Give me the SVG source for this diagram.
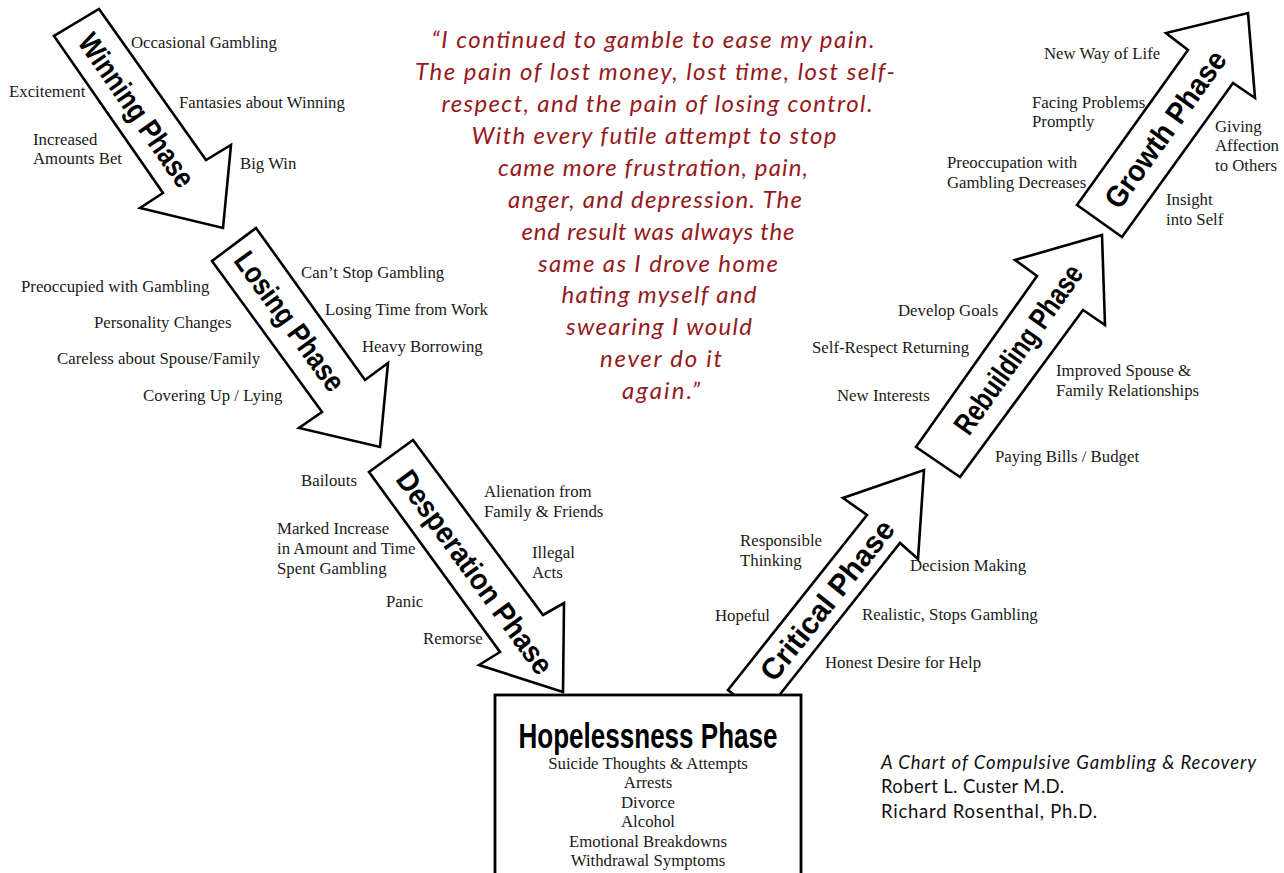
<svg xmlns="http://www.w3.org/2000/svg" width="1284" height="873" viewBox="0 0 1284 873">
<style>
.arrow{fill:#fff;stroke:#000;stroke-width:2.6;stroke-linejoin:miter}
.box{fill:#fff;stroke:#000;stroke-width:2.8}
.phase{font-family:"Liberation Sans",Arial,sans-serif;font-weight:bold;font-size:30px;fill:#000;text-anchor:middle}
.lbl{font-family:"Liberation Serif","Times New Roman",serif;font-size:16.8px;fill:#1a1a1a}
.hl{font-family:"Liberation Serif","Times New Roman",serif;font-size:16.8px;fill:#1a1a1a;text-anchor:middle}
.title{font-family:"Liberation Sans",Arial,sans-serif;font-weight:bold;font-size:35px;fill:#000;text-anchor:middle}
.quote{font-family:Lato,"Open Sans",sans-serif;font-style:italic;font-weight:normal;font-size:24px;fill:#951a1d;text-anchor:middle}
.cred{font-family:Lato,"Open Sans",sans-serif;font-size:18.5px;fill:#111}
</style>
<rect width="1284" height="873" fill="#fff"/>

<g id="connectors"></g>

<g id="winning">
<polygon class="arrow" points="99,9 206,160 231,145 223,228 140,208 163,193 54,36"/>
<text class="phase" transform="translate(137,110) rotate(55.2)" y="10.7" textLength="180" lengthAdjust="spacingAndGlyphs">Winning Phase</text>
</g>
<g id="losing">
<polygon class="arrow" points="256,228 365,380 388,363 380,447 299,428 322,412 212,261"/>
<text class="phase" transform="translate(290,321) rotate(53.9)" y="10.7" textLength="165" lengthAdjust="spacingAndGlyphs">Losing Phase</text>
</g>
<g id="desperation">
<polygon class="arrow" points="413,440 543,615 564,603 563,692 479,665 500,652 369,472"/>
<text class="phase" transform="translate(475,572) rotate(54)" y="10.7" textLength="244" lengthAdjust="spacingAndGlyphs">Desperation Phase</text>
</g>
<g id="critical">
<polygon class="arrow" points="728,690 867,515 843,498 924,470 918,559 900,543 762,717"/>
<text class="phase" transform="translate(827,600) rotate(-51.5)" y="10.7" textLength="196" lengthAdjust="spacingAndGlyphs">Critical Phase</text>
</g>
<g id="rebuilding">
<polygon class="arrow" points="916,447 1037,276 1015,260 1102,235 1105,325 1083,310 960,477"/>
<text class="phase" transform="translate(1018,349) rotate(-54.7)" y="10.7" textLength="200" lengthAdjust="spacingAndGlyphs">Rebuilding Phase</text>
</g>
<g id="growth">
<polygon class="arrow" points="1077,205 1188,50 1166,33 1248,13 1255,98 1233,83 1122,237"/>
<text class="phase" transform="translate(1165,129) rotate(-54.4)" y="10.7" textLength="186" lengthAdjust="spacingAndGlyphs">Growth Phase</text>
</g>

<g id="hopelessness">
<rect class="box" x="495" y="695" width="306" height="200"/>
<text class="title" x="648" y="748" textLength="259" lengthAdjust="spacingAndGlyphs">Hopelessness Phase</text>
<text class="hl" x="648" y="769">Suicide Thoughts &amp; Attempts</text>
<text class="hl" x="648" y="788">Arrests</text>
<text class="hl" x="648" y="808">Divorce</text>
<text class="hl" x="648" y="827">Alcohol</text>
<text class="hl" x="648" y="847">Emotional Breakdowns</text>
<text class="hl" x="648" y="866">Withdrawal Symptoms</text>
</g>

<g id="winning-labels">
<text class="lbl" x="131" y="48">Occasional Gambling</text>
<text class="lbl" x="9" y="97">Excitement</text>
<text class="lbl" x="179" y="108">Fantasies about Winning</text>
<text class="lbl" x="33" y="145">Increased</text>
<text class="lbl" x="33" y="164">Amounts Bet</text>
<text class="lbl" x="240" y="169">Big Win</text>
</g>
<g id="losing-labels">
<text class="lbl" x="301" y="278">Can’t Stop Gambling</text>
<text class="lbl" x="21" y="292">Preoccupied with Gambling</text>
<text class="lbl" x="325" y="315">Losing Time from Work</text>
<text class="lbl" x="94" y="328">Personality Changes</text>
<text class="lbl" x="362" y="352">Heavy Borrowing</text>
<text class="lbl" x="57" y="364">Careless about Spouse/Family</text>
<text class="lbl" x="143" y="401">Covering Up / Lying</text>
</g>
<g id="desperation-labels">
<text class="lbl" x="301" y="486">Bailouts</text>
<text class="lbl" x="484" y="497">Alienation from</text>
<text class="lbl" x="484" y="517">Family &amp; Friends</text>
<text class="lbl" x="277" y="534">Marked Increase</text>
<text class="lbl" x="277" y="554">in Amount and Time</text>
<text class="lbl" x="277" y="574">Spent Gambling</text>
<text class="lbl" x="532" y="558">Illegal</text>
<text class="lbl" x="532" y="578">Acts</text>
<text class="lbl" x="386" y="607">Panic</text>
<text class="lbl" x="423" y="644">Remorse</text>
</g>
<g id="critical-labels">
<text class="lbl" x="740" y="546">Responsible</text>
<text class="lbl" x="740" y="566">Thinking</text>
<text class="lbl" x="910" y="571">Decision Making</text>
<text class="lbl" x="715" y="621">Hopeful</text>
<text class="lbl" x="862" y="620">Realistic, Stops Gambling</text>
<text class="lbl" x="825" y="668">Honest Desire for Help</text>
</g>
<g id="rebuilding-labels">
<text class="lbl" x="898" y="316">Develop Goals</text>
<text class="lbl" x="812" y="353">Self-Respect Returning</text>
<text class="lbl" x="1056" y="376">Improved Spouse &amp;</text>
<text class="lbl" x="1056" y="396">Family Relationships</text>
<text class="lbl" x="837" y="401">New Interests</text>
<text class="lbl" x="995" y="462">Paying Bills / Budget</text>
</g>
<g id="growth-labels">
<text class="lbl" x="1044" y="59">New Way of Life</text>
<text class="lbl" x="1032" y="108">Facing Problems</text>
<text class="lbl" x="1032" y="127">Promptly</text>
<text class="lbl" x="1215" y="132">Giving</text>
<text class="lbl" x="1215" y="151">Affection</text>
<text class="lbl" x="1215" y="171">to Others</text>
<text class="lbl" x="947" y="168">Preoccupation with</text>
<text class="lbl" x="947" y="188">Gambling Decreases</text>
<text class="lbl" x="1166" y="205">Insight</text>
<text class="lbl" x="1166" y="225">into Self</text>
</g>

<g id="quote">
<text class="quote" x="653" y="48" textLength="443">“I continued to gamble to ease my pain.</text>
<text class="quote" x="655" y="80" textLength="480">The pain of lost money, lost time, lost self-</text>
<text class="quote" x="657" y="112" textLength="431">respect, and the pain of losing control.</text>
<text class="quote" x="654" y="144" textLength="365">With every futile attempt to stop</text>
<text class="quote" x="653" y="176" textLength="310">came more frustration, pain,</text>
<text class="quote" x="655" y="208" textLength="294">anger, and depression. The</text>
<text class="quote" x="658" y="240" textLength="273">end result was always the</text>
<text class="quote" x="658" y="272" textLength="240">same as I drove home</text>
<text class="quote" x="659" y="303" textLength="195">hating myself and</text>
<text class="quote" x="659" y="335" textLength="186">swearing I would</text>
<text class="quote" x="661" y="367" textLength="122">never do it</text>
<text class="quote" x="661" y="399" textLength="78">again.”</text>
</g>

<g id="credits">
<text class="cred" x="881" y="769" font-style="italic" textLength="375">A Chart of Compulsive Gambling &amp; Recovery</text>
<text class="cred" x="881" y="793" textLength="183">Robert L. Custer M.D.</text>
<text class="cred" x="881" y="818" textLength="216">Richard Rosenthal, Ph.D.</text>
</g>
</svg>
